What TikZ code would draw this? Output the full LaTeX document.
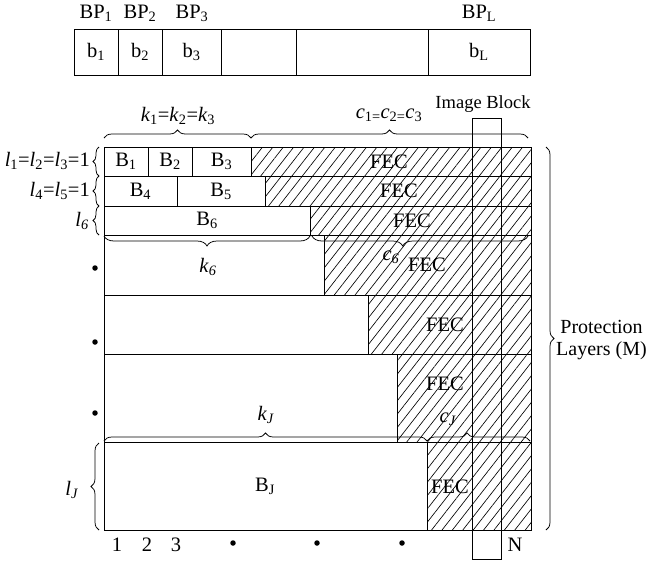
\documentclass[tikz,border=0pt]{standalone}
\usepackage{fontspec}
\setmainfont{Liberation Serif}
\usetikzlibrary{patterns.meta, decorations.pathreplacing}

\newcommand{\ix}[2]{\textit{#1}\textsubscript{#2}}

\begin{document}
\begin{tikzpicture}[
    x=1pt, y=-1pt,
    lbl/.style={font=\fontsize{20.5}{23}\selectfont, inner sep=1pt},
    cell/.style={draw=black, line width=1pt},
    fec/.style={cell, pattern={Lines[angle=52,distance=8.2pt,line width=0.65pt]}},
    brc/.style={decorate, decoration={brace, amplitude=#1}, line width=0.75pt},
    brc/.default=8pt,
    dot/.style={circle, fill=black, inner sep=0pt, minimum size=5.5pt},
]
\useasboundingbox (0,0) rectangle (648,563);

% Bit planes
\draw[cell] (74,29) rectangle (530,75);
\foreach \x in {118,162,221,296,428}
    \draw[cell] (\x,29) -- (\x,75);

\node[lbl] (bp1) at (96,13)  {BP\textsubscript{1}};
\node[lbl] (bp2) at (140,13) {BP\textsubscript{2}};
\node[lbl] (bp3) at (192,13) {BP\textsubscript{3}};
\node[lbl] (bpl) at (479,13) {BP\textsubscript{L}};

\node[lbl] (b1) at (96,52)    {b\textsubscript{1}};
\node[lbl] (b2) at (140,52)   {b\textsubscript{2}};
\node[lbl] (b3) at (191.5,52) {b\textsubscript{3}};
\node[lbl] (bl) at (479,52)   {b\textsubscript{L}};

% Protection layers (data | FEC)
\foreach \ya/\yb/\xc in {147/176/251, 176/206/265, 206/235/310, 235/295/324,
                          295/354/368, 354/442/397, 442/530/427} {
    \draw[cell] (104,\ya) rectangle (\xc,\yb);
    \draw[fec]  (\xc,\ya) rectangle (531,\yb);
}
\draw[cell] (148,147) -- (148,176);
\draw[cell] (192,147) -- (192,176);
\draw[cell] (177,176) -- (177,206);

\node[lbl] (B1) at (126,161.5)  {B\textsubscript{1}};
\node[lbl] (B2) at (170,161.5)  {B\textsubscript{2}};
\node[lbl] (B3) at (221.5,161.5){B\textsubscript{3}};
\node[lbl] (B4) at (140.5,191)  {B\textsubscript{4}};
\node[lbl] (B5) at (221,191)    {B\textsubscript{5}};
\node[lbl] (B6) at (207,220.5)  {B\textsubscript{6}};
\node[lbl] (BJ) at (265,486)    {B\textsubscript{J}};

\node[lbl] (fec1) at (389,161.5) {FEC};
\node[lbl] (fec2) at (399,191)   {FEC};
\node[lbl] (fec3) at (412,220.5) {FEC};
\node[lbl] (fec4) at (427,265)   {FEC};
\node[lbl] (fec5) at (445,325)   {FEC};
\node[lbl] (fec6) at (445,384)   {FEC};
\node[lbl] (fecJ) at (450,487)   {FEC};

% Image block column
\draw[line width=0.9pt] (472,118) rectangle (501,559);
\node[lbl, font=\fontsize{18.5}{21}\selectfont] (imgblock) at (483,104) {Image Block};

% Braces
\draw[brc] (104,138) -- (251,138);
\node[lbl] (k123) at (178,116) {\ix{k}{1}=\ix{k}{2}=\ix{k}{3}};
\draw[brc] (251,138) -- (528,138);
\node[lbl] (c123) at (389,115) {\ix{c}{1=}\ix{c}{2=}\ix{c}{3}};

\draw[brc=10pt, decoration={mirror}] (104,236) -- (310,236);
\node[lbl] (k6) at (208,267) {\ix{k}{\textit{6}}};
\draw[brc=10pt, decoration={mirror, aspect=0.42}] (312,236) -- (528,236);
\node[lbl] (c6) at (391,257) {\ix{c}{\textit{6}}};

\draw[brc] (104,441) -- (427,441);
\node[lbl] (kJ) at (266,415) {\ix{k}{\textit{J}}};
\draw[brc, decoration={aspect=0.39}] (427,441) -- (530,441);
\node[lbl] (cJ) at (448,419) {\ix{c}{\textit{J}}};

\draw[brc=6pt] (99,176) -- (99,147);
\node[lbl, anchor=east] (l123) at (91,161) {\ix{l}{1}=\ix{l}{2}=\ix{l}{3}=1};
\draw[brc=6pt] (99,206) -- (99,176);
\node[lbl, anchor=east] (l45) at (91,191) {\ix{l}{4}=\ix{l}{5}=1};
\draw[brc=6pt] (99,235) -- (99,206);
\node[lbl, anchor=east] (l6) at (90,221) {\ix{l}{\textit{6}}};
\draw[brc] (99,530) -- (99,443);
\node[lbl] (lJ) at (72,490) {\ix{l}{\textit{J}}};

\draw[brc] (546,147) -- (546,530);
\node[lbl, font=\fontsize{20}{22.5}\selectfont, align=center] (prot) at (601.5,340)
    {Protection\\Layers (M)};

% Dots and indices
\node[dot] (vd1) at (95,268) {};
\node[dot] (vd2) at (95,342) {};
\node[dot] (vd3) at (95,413) {};

\node[lbl] (n1) at (117,545) {1};
\node[lbl] (n2) at (147,545) {2};
\node[lbl] (n3) at (176,545) {3};
\node[dot] (hd1) at (233,543) {};
\node[dot] (hd2) at (317,543) {};
\node[dot] (hd3) at (402,543) {};
\node[lbl] (nN) at (515,545) {N};
\end{tikzpicture}
\end{document}
